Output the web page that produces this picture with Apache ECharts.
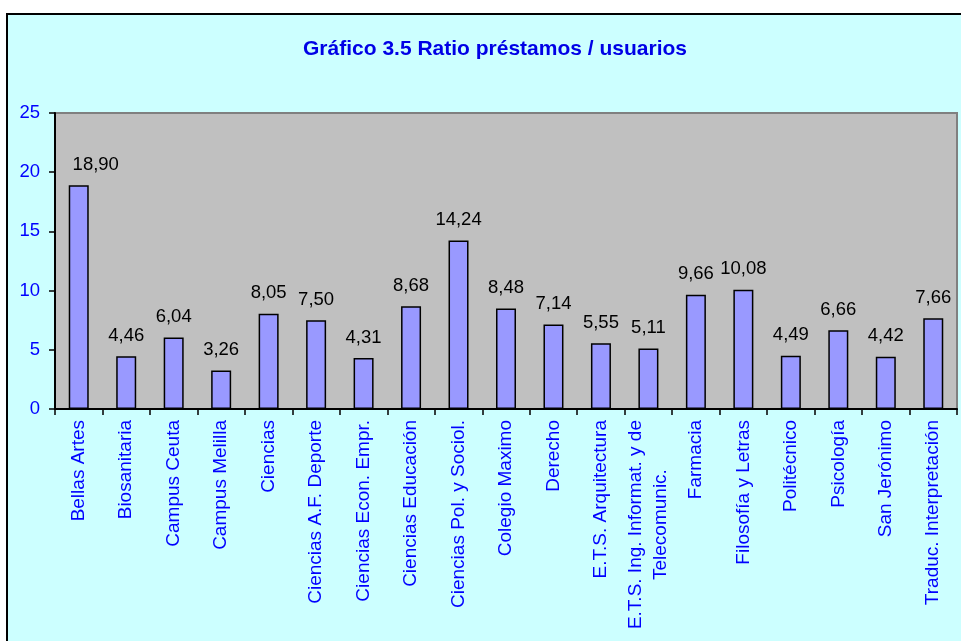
<!DOCTYPE html>
<html>
<head>
<meta charset="utf-8">
<script src="https://cdn.jsdelivr.net/npm/echarts@6/dist/echarts.min.js"></script>
<style>
  html, body { margin: 0; padding: 0; background: #ffffff; width: 961px; height: 641px; overflow: hidden; }
  #frame { position: absolute; left: 6px; top: 13px; width: 1000px; height: 700px; background: #CCFFFF; border: 2.5px solid #000; }
  #chart { position: absolute; left: 0; top: 0; width: 961px; height: 641px; }
</style>
</head>
<body>
<div id="frame"></div>
<div id="chart"></div>
<script>
const titleText = 'Gráfico 3.5 Ratio préstamos / usuarios';
const categories = [
  'Bellas Artes', 'Biosanitaria', 'Campus Ceuta', 'Campus Melilla', 'Ciencias',
  'Ciencias A.F. Deporte', 'Ciencias Econ. Empr.', 'Ciencias Educación',
  'Ciencias Pol. y Sociol.', 'Colegio Maximo', 'Derecho', 'E.T.S. Arquitectura',
  'E.T.S. Ing. Informat. y de\nTelecomunic.', 'Farmacia', 'Filosofía y Letras',
  'Politécnico', 'Psicología', 'San Jerónimo', 'Traduc. Interpretación'
];
const ratios = [18.90, 4.46, 6.04, 3.26, 8.05, 7.50, 4.31, 8.68, 14.24, 8.48, 7.14, 5.55, 5.11, 9.66, 10.08, 4.49, 6.66, 4.42, 7.66];
const yMin = 0, yMax = 25, yStep = 5;

const FONT = "'Liberation Sans', Arial, sans-serif";
const chart = echarts.init(document.getElementById('chart'), null, { renderer: 'canvas' });
// In the reference the first data label sits shifted to the right of its bar
const barData = ratios.map(function (v, i) {
  return i === 0 ? { value: v, label: { offset: [17, 0] } } : v;
});
chart.setOption({
  backgroundColor: 'transparent',
  animation: false,
  title: {
    text: titleText,
    left: 490,
    top: 34,
    textAlign: 'center',
    textStyle: { color: '#0000E6', fontSize: 21, fontWeight: 'bold', fontFamily: FONT }
  },
  grid: {
    left: 55, top: 113, right: 4, bottom: 232,
    show: true, backgroundColor: '#C0C0C0', borderColor: '#808080', borderWidth: 2,
    containLabel: false
  },
  xAxis: {
    type: 'category',
    data: categories,
    boundaryGap: true,
    axisLine: { show: true, lineStyle: { color: '#000', width: 2 } },
    axisTick: { show: true, inside: false, length: 6, lineStyle: { color: '#000', width: 1.5 } },
    axisLabel: {
      interval: 0, rotate: 90, margin: 11,
      color: '#0000FF', fontSize: 19, fontFamily: FONT,
      formatter: function (v) { return v.split('\n').map(function (s) { return '{c|' + s + '}'; }).join('\n'); },
      rich: { c: { align: 'center', color: '#0000FF', fontSize: 19, lineHeight: 25, fontFamily: FONT } }
    },
    splitLine: { show: false }
  },
  yAxis: {
    type: 'value',
    min: yMin, max: yMax, interval: yStep,
    axisLine: { show: true, lineStyle: { color: '#000', width: 2 } },
    axisTick: { show: true, length: 6, lineStyle: { color: '#000', width: 1.5 } },
    axisLabel: { margin: 15, color: '#0000FF', fontSize: 18.5, fontFamily: FONT },
    splitLine: { show: false }
  },
  series: [{
    type: 'bar',
    data: barData,
    barWidth: 20,
    itemStyle: { color: '#9999FF', borderColor: '#000', borderWidth: 1.5 },
    label: {
      show: true, position: 'top', distance: 11,
      color: '#000', fontSize: 18.5, fontFamily: FONT,
      formatter: function (p) { return p.value.toFixed(2).replace('.', ','); }
    }
  }]
});
</script>
</body>
</html>
